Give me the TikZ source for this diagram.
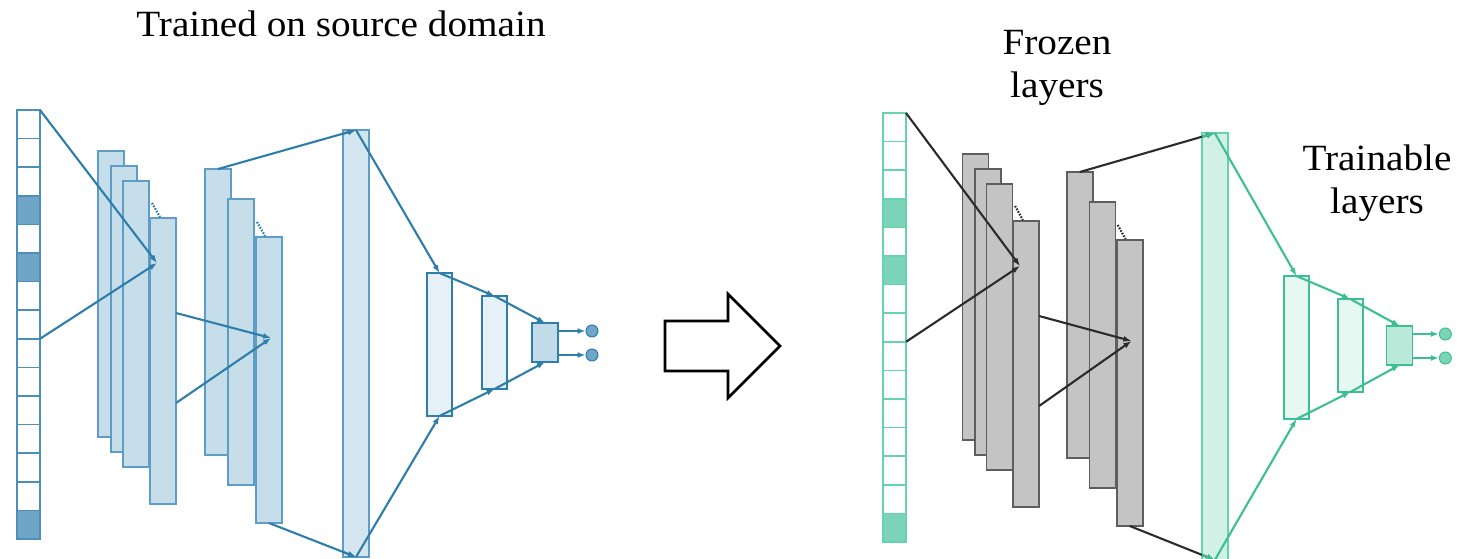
\documentclass[tikz,border=0pt]{standalone}
\usepackage{fontspec}
\setmainfont{Liberation Serif}[FakeStretch=1.06]
\usetikzlibrary{calc}
\usetikzlibrary{arrows.meta}
\newcommand{\cellh}{28.6}
\newcommand{\convh}{286}

\definecolor{blueline}{HTML}{2E7DAA}
\definecolor{bluedraw}{HTML}{5E9EC6}
\definecolor{bluefill}{HTML}{C6DDEA}
\definecolor{bluedark}{HTML}{6FA5C7}
\definecolor{bluebig}{HTML}{D3E6F0}
\definecolor{bluefc}{HTML}{E6F0F7}
\definecolor{bluebox}{HTML}{C2DBE9}
\definecolor{greenline}{HTML}{3CBF92}
\definecolor{greendraw}{HTML}{66D2AE}
\definecolor{greendark}{HTML}{7BD4B7}
\definecolor{greenbig}{HTML}{D2F1E6}
\definecolor{greenfc}{HTML}{E7F8F2}
\definecolor{greenbox}{HTML}{B9EAD9}
\definecolor{frozfill}{HTML}{C4C4C4}
\definecolor{frozdraw}{HTML}{5E5E5E}
\definecolor{frozline}{HTML}{2B2B2B}

\tikzset{
  cell/.style={draw=netCell, fill=white, line width=1.6pt, minimum width=23pt, minimum height=\cellh pt, inner sep=0pt, outer sep=0pt, anchor=north west},
  darkcell/.style={cell, fill=netDark},
  convlayer/.style={draw=netConvDraw, fill=netConvFill, line width=1.5pt, minimum width=26pt, minimum height=\convh pt, inner sep=0pt, outer sep=0pt, anchor=north west},
  biglayer/.style={draw=netBigDraw, fill=netBig, line width=1.5pt, minimum width=26pt, minimum height=427pt, inner sep=0pt, outer sep=0pt, anchor=north west},
  fclayer/.style={draw=netTrain, fill=netFC, line width=1.5pt, minimum width=25pt, inner sep=0pt, outer sep=0pt, anchor=north west},
  boxlayer/.style={fclayer, fill=netBox, minimum width=26pt, minimum height=39pt},
  outdot/.style={circle, draw=netTrain, fill=netDark, line width=1pt, minimum size=12pt, inner sep=0pt},
  frozlink/.style={draw=netFroz, line width=2.1pt, -{Latex[length=8pt,width=6pt]}},
  trainlink/.style={draw=netTrain, line width=2.1pt, -{Latex[length=8pt,width=6pt]}},
  dotsmark/.style={draw=netFroz, line width=2.2pt, dash pattern=on 1.6pt off 1.4pt},
  label/.style={font=\fontsize{37}{43}\selectfont, text=black, align=center, inner sep=0pt}
}

% one network panel, coordinates in pixels of the left panel
\newcommand{\drawnet}{%
  \foreach \i/\s in {1/cell,2/cell,3/cell,4/darkcell,5/cell,6/darkcell,7/cell,8/cell,9/cell,10/cell,11/cell,12/cell,13/cell,14/cell,15/darkcell}
    \node[\s] (in\i) at (17,{110+(\i-1)*\cellh}) {};

  \node[convlayer] (R1) at (98,151) {};
  \node[convlayer] (R2) at (111,166) {};
  \node[convlayer] (R3) at (123,181) {};
  \node[convlayer] (R4) at (150,218) {};
  \draw[dotsmark] ($(R4.north west)+(2,-15)$) -- ($(R4.north west)+(10,-1)$);

  \node[convlayer] (S1) at (205,169) {};
  \node[convlayer] (S2) at (228,199) {};
  \node[convlayer] (S3) at (256,237) {};
  \draw[dotsmark] ($(S3.north west)+(1,-15)$) -- ($(S3.north west)+(9,-1)$);

  \node[biglayer] (B) at (343,130) {};
  \node[fclayer, minimum height=143pt] (F1) at (427,273) {};
  \node[fclayer, minimum height=93pt] (F2) at (482,296) {};
  \node[boxlayer] (O) at (532,323) {};
  \node[outdot] (y1) at (592,331) {};
  \node[outdot] (y2) at (592,355) {};

  \coordinate (k1) at (157,263);
  \coordinate (k2) at (271,338);

  \draw[frozlink] (in1.north east) -- (k1);
  \draw[frozlink] (in9.north east) -- (k1);
  \draw[frozlink] ($(R4.north east)+(0,95)$) -- (k2);
  \draw[frozlink] ($(R4.north east)+(0,185)$) -- (k2);
  \draw[frozlink] (S1.north) -- (B.north);
  \draw[frozlink] (S3.south) -- (B.south);
  \begin{scope}
    \clip (B.north west) rectangle (B.south east);
    \draw[trainlink] (S1.north) -- (B.north);
    \draw[trainlink] (S3.south) -- (B.south);
  \end{scope}

  \draw[trainlink] (B.north) -- (F1.north);
  \draw[trainlink] (B.south) -- (F1.south);
  \draw[trainlink] (F1.north) -- (F2.north);
  \draw[trainlink] (F1.south) -- (F2.south);
  \draw[trainlink] (F2.north) -- (O.north);
  \draw[trainlink] (F2.south) -- (O.south);
  \draw[trainlink] (O.east |- y1) -- (y1);
  \draw[trainlink] (O.east |- y2) -- (y2);
}

\begin{document}
\begin{tikzpicture}[x=1pt, y=-1pt]
\useasboundingbox[fill=white] (0,0) rectangle (1468,558);

\node[label, anchor=base] (title) at (341,36) {Trained on source domain};
\node[label] (frozen) at (1057,68) {Frozen\\layers};
\node[label] (trainable) at (1377,183) {Trainable\\layers};

% source network
\begin{scope}[name prefix=L-]
  \colorlet{netCell}{blueline!85}
  \colorlet{netDark}{bluedark}
  \colorlet{netConvFill}{bluefill}
  \colorlet{netConvDraw}{bluedraw}
  \colorlet{netFroz}{blueline}
  \colorlet{netTrain}{blueline}
  \colorlet{netBig}{bluebig}
  \colorlet{netBigDraw}{bluedraw}
  \colorlet{netFC}{bluefc}
  \colorlet{netBox}{bluebox}
  \drawnet
\end{scope}

% transfer arrow
\draw[line width=2.6pt, line join=miter] (665,321) -- (728,321) -- (728,294) -- (780,346)
  -- (728,398) -- (728,371) -- (665,371) -- cycle;

% target network
\begin{scope}[shift={(866.4,3)}, xscale=0.978, name prefix=R-]
  \colorlet{netCell}{greendraw}
  \colorlet{netDark}{greendark}
  \colorlet{netConvFill}{frozfill}
  \colorlet{netConvDraw}{frozdraw}
  \colorlet{netFroz}{frozline}
  \colorlet{netTrain}{greenline}
  \colorlet{netBig}{greenbig}
  \colorlet{netBigDraw}{greendraw}
  \colorlet{netFC}{greenfc}
  \colorlet{netBox}{greenbox}
  \drawnet
\end{scope}

\end{tikzpicture}
\end{document}
